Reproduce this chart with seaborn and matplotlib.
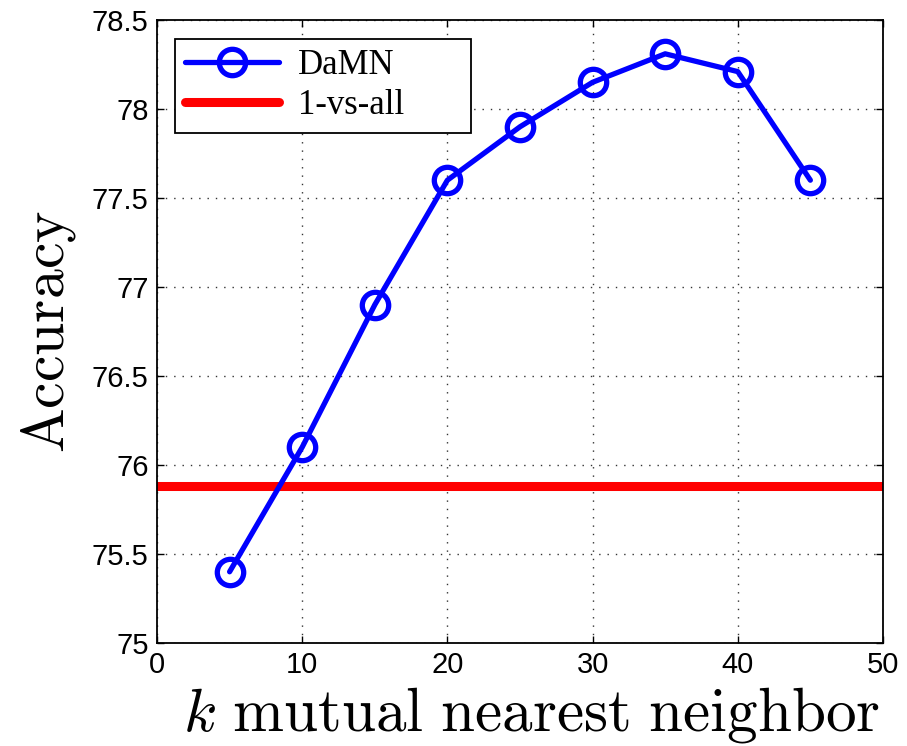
import matplotlib
matplotlib.use("Agg")
import matplotlib.pyplot as plt
import seaborn as sns
import pandas as pd

k_values = [5, 10, 15, 20, 25, 30, 35, 40, 45]
damn_acc = [75.4, 76.1, 76.9, 77.6, 77.9, 78.15, 78.31, 78.21, 77.6]
one_vs_all_acc = 75.88
x_ticks = [0, 10, 20, 30, 40, 50]
y_ticks = [75, 75.5, 76, 76.5, 77, 77.5, 78, 78.5]
y_tick_labels = ["75", "75.5", "76", "76.5", "77", "77.5", "78", "78.5"]

sns.set_theme(style="white")
plt.rcParams['mathtext.fontset'] = 'cm'
plt.rcParams['font.family'] = ['Liberation Sans', 'DejaVu Sans']
plt.rcParams['text.color'] = 'black'
plt.rcParams['axes.labelcolor'] = 'black'
plt.rcParams['xtick.color'] = 'black'
plt.rcParams['ytick.color'] = 'black'

fig = plt.figure(figsize=(9.07, 7.46), dpi=100)
ax = fig.add_axes([0.1731, 0.1381, 0.8004, 0.8351])

df = pd.DataFrame({"k": k_values, "acc": damn_acc})
sns.lineplot(data=df, x="k", y="acc", ax=ax, color="#0000ff", linewidth=3.8,
             marker="o", markersize=19, markerfacecolor="none",
             markeredgecolor="#0000ff", markeredgewidth=3.8, label="DaMN",
             zorder=3)
ax.axhline(one_vs_all_acc, color="#ff0000", linewidth=6.5, label="1-vs-all", zorder=2)

ax.set_xlim(0, 50)
ax.set_ylim(75, 78.5)
ax.set_xticks(x_ticks)
ax.set_xticklabels([str(t) for t in x_ticks])
ax.set_yticks(y_ticks)
ax.set_yticklabels(y_tick_labels)
ax.tick_params(axis="both", which="major", labelsize=21, direction="in",
               length=5, width=1, top=True, right=True, colors="black",
               bottom=True, left=True, pad=6)
ax.grid(True, linestyle=(0, (1, 5)), color="#333333", linewidth=1)
for s in ax.spines.values():
    s.set_visible(True)
    s.set_color("black")
    s.set_linewidth(1.3)

ax.set_xlabel(r"$k\ \mathrm{mutual\ nearest\ neighbor}$", fontsize=44)
ax.set_ylabel(r"$\mathrm{Accuracy}$", fontsize=43, labelpad=10)
ax.xaxis.set_label_coords(0.516, -0.068, transform=ax.transAxes)
ax.xaxis.label.set_va("top")

leg = ax.legend(loc="upper left", bbox_to_anchor=(0.0248, 0.0, 0.4077, 0.9695),
                mode="expand", borderaxespad=0.0,
                frameon=True, fancybox=False, edgecolor="black", framealpha=1,
                prop={"family": "Liberation Serif", "size": 25},
                handlelength=2.7, handletextpad=0.55, borderpad=0.3,
                labelspacing=0.2)
leg.get_frame().set_linewidth(1.3)

fig.savefig("out.png", dpi=100)
